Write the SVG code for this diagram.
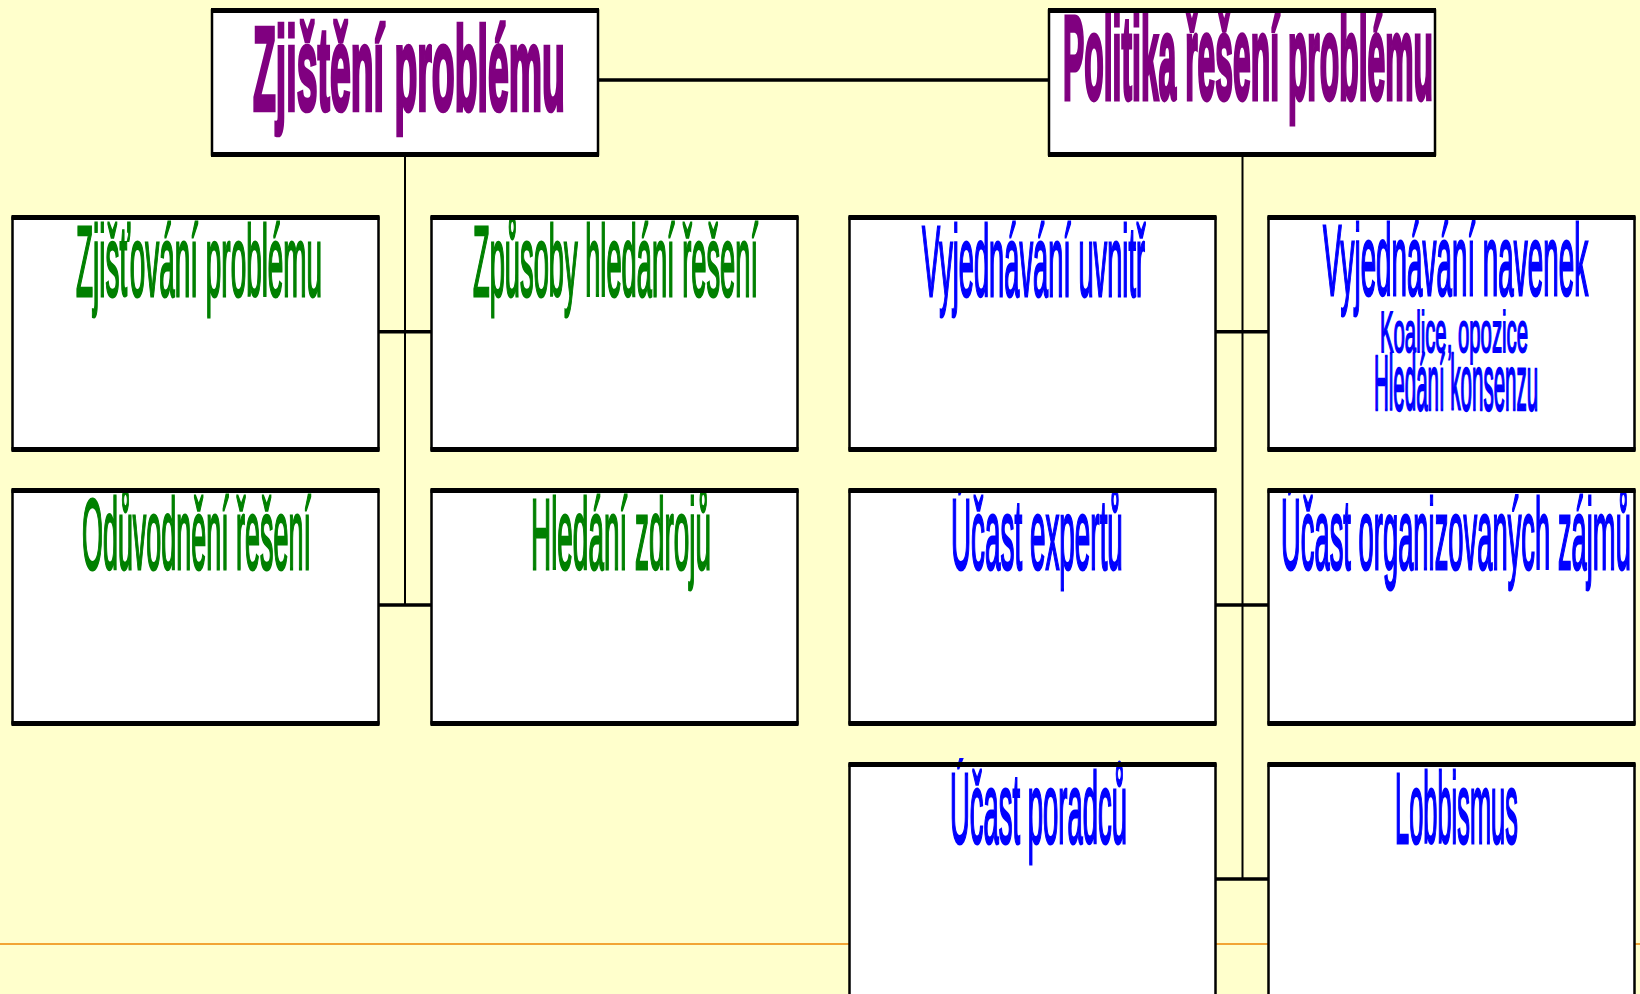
<svg xmlns="http://www.w3.org/2000/svg" width="1640" height="994" viewBox="0 0 1640 994">
<style>
.bg{fill:#FFFFCC}
.box{fill:#FFFFFF;stroke:#000;stroke-width:2.5}
.edge{stroke:#000;stroke-width:5}
.conn{stroke:#000;fill:none}
.t{font-family:"Liberation Sans",Arial,sans-serif;vector-effect:non-scaling-stroke}
.p{fill:#800080;stroke:#800080;stroke-width:3.5;font-weight:bold;font-size:118px}
.g{fill:#008000;stroke:#008000;stroke-width:2.2;font-size:100px}
.b{fill:#0000FF;stroke:#0000FF;stroke-width:2.2;font-size:100px}
</style>
<defs>
<clipPath id="cT1"><rect x="213" y="13" width="384" height="139"/></clipPath>
<clipPath id="cT2"><rect x="1050" y="13" width="384" height="139"/></clipPath>
<clipPath id="cA1"><rect x="13" y="220" width="365" height="227"/></clipPath>
<clipPath id="cB1"><rect x="432" y="220" width="365" height="227"/></clipPath>
<clipPath id="cC1"><rect x="850" y="220" width="365" height="227"/></clipPath>
<clipPath id="cD1"><rect x="1269" y="220" width="365" height="227"/></clipPath>
<clipPath id="cA2"><rect x="13" y="493" width="365" height="227"/></clipPath>
<clipPath id="cB2"><rect x="432" y="493" width="365" height="227"/></clipPath>
<clipPath id="cC2"><rect x="850" y="493" width="365" height="227"/></clipPath>
<clipPath id="cD2"><rect x="1269" y="493" width="365" height="227"/></clipPath>
<clipPath id="cC3"><rect x="850" y="758" width="365" height="240"/></clipPath>
<clipPath id="cD3"><rect x="1269" y="767" width="365" height="240"/></clipPath>
</defs>
<rect class="bg" x="0" y="0" width="1640" height="994"/>
<line x1="0" y1="944" x2="1640" y2="944" stroke="#F2A535" stroke-width="2.2"/>

<g id="connectors">
<line class="conn" x1="598" y1="80" x2="1049" y2="80" stroke-width="3.5"/>
<line class="conn" x1="405" y1="155" x2="405" y2="606" stroke-width="2"/>
<line class="conn" x1="378" y1="331.7" x2="432" y2="331.7" stroke-width="3.5"/>
<line class="conn" x1="378" y1="605" x2="432" y2="605" stroke-width="3.5"/>
<line class="conn" x1="1242.5" y1="155" x2="1242.5" y2="880" stroke-width="2"/>
<line class="conn" x1="1215" y1="331.7" x2="1269" y2="331.7" stroke-width="3.5"/>
<line class="conn" x1="1215" y1="605" x2="1269" y2="605" stroke-width="3.5"/>
<line class="conn" x1="1215" y1="879" x2="1269" y2="879" stroke-width="3.5"/>
</g>

<g id="n-zjisteni">
<rect class="box" x="212" y="10.5" width="386" height="144"/>
<g clip-path="url(#cT1)"><text class="t p" transform="translate(253,110) scale(0.317,1)" textLength="984" lengthAdjust="spacingAndGlyphs">Zjištění problému</text></g>
<line class="edge" x1="211" y1="10.5" x2="599" y2="10.5"/>
<line class="edge" x1="211" y1="154.5" x2="599" y2="154.5"/>
</g>

<g id="n-politika">
<rect class="box" x="1049" y="10.5" width="386" height="144"/>
<g clip-path="url(#cT2)"><text class="t p" transform="translate(1063,99) scale(0.277,1)" textLength="1336" lengthAdjust="spacingAndGlyphs">Politika řešení problému</text></g>
<line class="edge" x1="1048" y1="10.5" x2="1436" y2="10.5"/>
<line class="edge" x1="1048" y1="154.5" x2="1436" y2="154.5"/>
</g>

<g id="n-zjistovani">
<rect class="box" x="12.5" y="217.5" width="366" height="232"/>
<g clip-path="url(#cA1)"><text class="t g" transform="translate(76,296) scale(0.28,1)" textLength="879" lengthAdjust="spacingAndGlyphs">Zjišťování problému</text></g>
<line class="edge" x1="11.5" y1="217.5" x2="379.5" y2="217.5"/>
<line class="edge" x1="11.5" y1="449.5" x2="379.5" y2="449.5"/>
</g>

<g id="n-zpusoby">
<rect class="box" x="431.5" y="217.5" width="366" height="232"/>
<g clip-path="url(#cB1)"><text class="t g" transform="translate(473,296) scale(0.273,1)" textLength="1044" lengthAdjust="spacingAndGlyphs">Způsoby hledání řešení</text></g>
<line class="edge" x1="430.5" y1="217.5" x2="798.5" y2="217.5"/>
<line class="edge" x1="430.5" y1="449.5" x2="798.5" y2="449.5"/>
</g>

<g id="n-uvnitr">
<rect class="box" x="849.5" y="217.5" width="366" height="232"/>
<g clip-path="url(#cC1)"><text class="t b" transform="translate(922,296) scale(0.271,1)" textLength="823" lengthAdjust="spacingAndGlyphs">Vyjednávání uvnitř</text></g>
<line class="edge" x1="848.5" y1="217.5" x2="1216.5" y2="217.5"/>
<line class="edge" x1="848.5" y1="449.5" x2="1216.5" y2="449.5"/>
</g>

<g id="n-navenek">
<rect class="box" x="1268.5" y="217.5" width="366" height="232"/>
<g clip-path="url(#cD1)">
<text class="t b" transform="translate(1323,295) scale(0.277,1)" textLength="957" lengthAdjust="spacingAndGlyphs">Vyjednávání navenek</text>
<text class="t b" transform="translate(1380,352) scale(0.35,1)" textLength="423" lengthAdjust="spacingAndGlyphs" style="font-size:58px;stroke-width:1.5">Koalice, opozice</text>
<text class="t b" transform="translate(1374,410) scale(0.266,1)" textLength="617" lengthAdjust="spacingAndGlyphs" style="font-size:77px;stroke-width:1.8">Hledání konsenzu</text>
</g>
<line class="edge" x1="1267.5" y1="217.5" x2="1635.5" y2="217.5"/>
<line class="edge" x1="1267.5" y1="449.5" x2="1635.5" y2="449.5"/>
</g>

<g id="n-oduvodneni">
<rect class="box" x="12.5" y="490.5" width="366" height="233"/>
<g clip-path="url(#cA2)"><text class="t g" transform="translate(82,569) scale(0.269,1)" textLength="851" lengthAdjust="spacingAndGlyphs">Odůvodnění řešení</text></g>
<line class="edge" x1="11.5" y1="490.5" x2="379.5" y2="490.5"/>
<line class="edge" x1="11.5" y1="723.5" x2="379.5" y2="723.5"/>
</g>

<g id="n-zdroje">
<rect class="box" x="431.5" y="490.5" width="366" height="233"/>
<g clip-path="url(#cB2)"><text class="t g" transform="translate(531,569) scale(0.279,1)" textLength="645" lengthAdjust="spacingAndGlyphs">Hledání zdrojů</text></g>
<line class="edge" x1="430.5" y1="490.5" x2="798.5" y2="490.5"/>
<line class="edge" x1="430.5" y1="723.5" x2="798.5" y2="723.5"/>
</g>

<g id="n-experti">
<rect class="box" x="849.5" y="490.5" width="366" height="233"/>
<g clip-path="url(#cC2)"><text class="t b" transform="translate(951,569) scale(0.279,1)" textLength="616" lengthAdjust="spacingAndGlyphs">Účast expertů</text></g>
<line class="edge" x1="848.5" y1="490.5" x2="1216.5" y2="490.5"/>
<line class="edge" x1="848.5" y1="723.5" x2="1216.5" y2="723.5"/>
</g>

<g id="n-zajmy">
<rect class="box" x="1268.5" y="490.5" width="366" height="233"/>
<g clip-path="url(#cD2)"><text class="t b" transform="translate(1281,569) scale(0.274,1)" textLength="1277" lengthAdjust="spacingAndGlyphs">Účast organizovaných zájmů</text></g>
<line class="edge" x1="1267.5" y1="490.5" x2="1635.5" y2="490.5"/>
<line class="edge" x1="1267.5" y1="723.5" x2="1635.5" y2="723.5"/>
</g>

<g id="n-poradci">
<rect class="box" x="849.5" y="764.5" width="366" height="260"/>
<g clip-path="url(#cC3)"><text class="t b" transform="translate(950,843) scale(0.274,1)" textLength="646" lengthAdjust="spacingAndGlyphs">Účast poradců</text></g>
<line class="edge" x1="848.5" y1="764.5" x2="1216.5" y2="764.5"/>
</g>

<g id="n-lobbismus">
<rect class="box" x="1268.5" y="764.5" width="366" height="260"/>
<g clip-path="url(#cD3)"><text class="t b" transform="translate(1395,843) scale(0.254,1)" textLength="484" lengthAdjust="spacingAndGlyphs">Lobbismus</text></g>
<line class="edge" x1="1267.5" y1="764.5" x2="1635.5" y2="764.5"/>
</g>
</svg>
